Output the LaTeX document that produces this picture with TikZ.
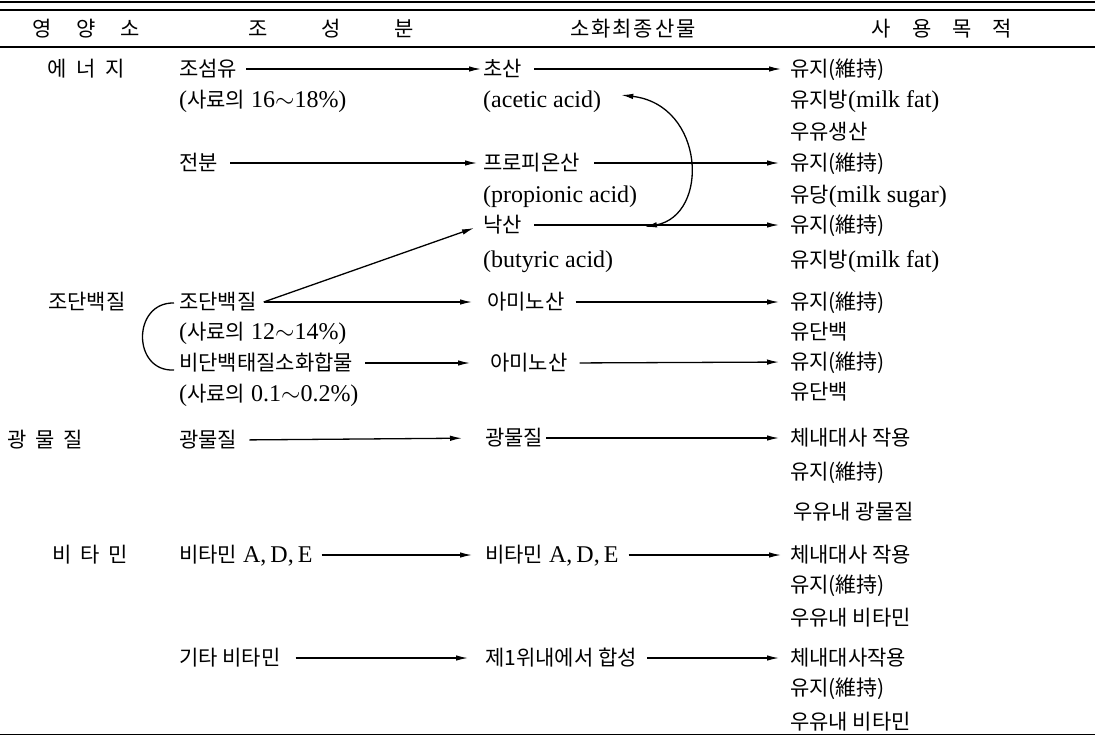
\documentclass[tikz,border=0pt]{standalone}
\usepackage{fontspec}
\setmainfont{Liberation Serif}
\newfontfamily\kr{Noto Sans CJK KR}
\usetikzlibrary{arrows.meta}
\newcommand\K[1]{{\kr\fontsize{21}{24}\selectfont #1}}
\newcommand\gp[1]{\hspace{#1pt}}
\begin{document}
\begin{tikzpicture}[x=1pt,y=-1pt,
  t/.style={anchor=west,inner sep=0pt,text height=18pt,text depth=3pt,font=\fontsize{24}{26}\selectfont},
  hd/.style={anchor=center,inner sep=0pt,text height=18pt,text depth=3pt,font=\fontsize{24}{26}\selectfont},
  arr/.style={-{Latex[length=12pt,width=5.5pt]},line width=1.3pt},
  darr/.style={{Latex[length=12pt,width=5.5pt]}-{Latex[length=12pt,width=5.5pt]},line width=1.3pt},
  rule/.style={line width=1.3pt}]
\useasboundingbox (0,0) rectangle (1095,736);
% rules
\draw[rule] (0,2) -- (1095,2);
\draw[rule] (0,10) -- (1095,10);
\draw[rule] (0,47) -- (1095,47);
\draw[rule] (0,734.5) -- (1095,734.5);
% header
\node[hd] (h1) at (86,29) {\K{영\gp{25}양\gp{25}소}};
\node[hd] (h2) at (331,29) {\K{조\gp{54}성\gp{54}분}};
\node[hd] (h3) at (633,29) {\K{소\gp{2}화\gp{2}최\gp{2}종\gp{2}산\gp{2}물}};
\node[hd] (h4) at (942,29) {\K{사\gp{21}용\gp{21}목\gp{21}적}};
% left labels
\node[t] (L1) at (47,69) {\K{에\gp{10}너\gp{10}지}};
\node[t] (L2) at (48,302) {\K{조단백질}};
\node[t] (L3) at (7,440) {\K{광\gp{9}물\gp{9}질}};
\node[t] (L4) at (52,555) {\K{비\gp{9}타\gp{9}민}};
% composition column
\node[t] (a1) at (179,69) {\K{조섬유}};
\node[t] (a1b) at (179,100) {(\K{사료의} 16$\sim$18\%)};
\node[t] (a2) at (179,163) {\K{전분}};
\node[t] (a3) at (179,302) {\K{조단백질}};
\node[t] (a3b) at (179,332) {(\K{사료의} 12$\sim$14\%)};
\node[t] (a4) at (179,363) {\K{비단백태질소화합물}};
\node[t] (a4b) at (179,394) {(\K{사료의} 0.1$\sim$0.2\%)};
\node[t] (a5) at (179,440) {\K{광물질}};
\node[t] (a6) at (179,555) {\K{비타민} A,\,D,\,E};
\node[t] (a7) at (179,658) {\K{기타 비타민}};
% products column
\node[t] (b1) at (483,69) {\K{초산}};
\node[t] (b1b) at (483,100) {(acetic acid)};
\node[t] (b2) at (483,163) {\K{프로피온산}};
\node[t] (b2b) at (483,195) {(propionic acid)};
\node[t] (b3) at (483,225) {\K{낙산}};
\node[t] (b3b) at (483,260) {(butyric acid)};
\node[t] (b4) at (487,302) {\K{아미노산}};
\node[t] (b5) at (490,363) {\K{아미노산}};
\node[t] (b6) at (485,438) {\K{광물질}};
\node[t] (b7) at (485,555) {\K{비타민} A,\,D,\,E};
\node[t] (b8) at (485,658) {\K{제1위내에서 합성}};
% purpose column
\node[t] (c1) at (790,69) {\K{유지(維持)}};
\node[t] (c2) at (790,100) {\K{유지방}(milk fat)};
\node[t] (c3) at (790,132) {\K{우유생산}};
\node[t] (c4) at (790,163) {\K{유지(維持)}};
\node[t] (c5) at (790,195) {\K{유당}(milk sugar)};
\node[t] (c6) at (790,225) {\K{유지(維持)}};
\node[t] (c7) at (790,260) {\K{유지방}(milk fat)};
\node[t] (c8) at (790,302) {\K{유지(維持)}};
\node[t] (c9) at (790,332) {\K{유단백}};
\node[t] (c10) at (790,362) {\K{유지(維持)}};
\node[t] (c11) at (790,392) {\K{유단백}};
\node[t] (c12) at (790,438) {\K{체내대사 작용}};
\node[t] (c13) at (790,472) {\K{유지(維持)}};
\node[t] (c14) at (793,512) {\K{우유내 광물질}};
\node[t] (c15) at (790,555) {\K{체내대사 작용}};
\node[t] (c16) at (790,585) {\K{유지(維持)}};
\node[t] (c17) at (790,618) {\K{우유내 비타민}};
\node[t] (c18) at (790,658) {\K{체내대사작용}};
\node[t] (c19) at (790,688) {\K{유지(維持)}};
\node[t] (c20) at (790,722) {\K{우유내 비타민}};
% connectors
\draw[arr,shorten <=9pt,shorten >=2pt] (a1.east) -- (b1.west);
\draw[arr,shorten <=12pt,shorten >=9pt] (b1.east) -- (c1.west);
\draw[arr,shorten <=12pt,shorten >=6pt] (a2.east) -- (b2.west);
\draw[arr,shorten <=14pt,shorten >=11pt] (b2.east) -- (c4.west);
\draw[arr,shorten <=12pt,shorten >=11pt] (b3.east) -- (c6.west);
\draw[arr] ([xshift=7pt]a3.east) -- ([xshift=-9pt,yshift=-3pt]b3.west);
\draw[arr,shorten <=7pt,shorten >=15pt] (a3.east) -- (b4.west);
\draw[arr,shorten <=11pt,shorten >=11pt] (b4.east) -- (c8.west);
\draw[arr,shorten <=12pt,shorten >=20pt] (a4.east) -- (b5.west);
\draw[arr,shorten <=12pt,shorten >=11pt] (b5.east) -- (c10.west);
\draw[arr,shorten <=12pt,shorten >=23pt] (a5.east) -- (b6.west);
\draw[arr,shorten <=3pt,shorten >=11pt] (b6.east) -- (c12.west);
\draw[arr,shorten <=9pt,shorten >=13pt] (a6.east) -- (b7.west);
\draw[arr,shorten <=10pt,shorten >=9pt] (b7.east) -- (c15.west);
\draw[arr,shorten <=15pt,shorten >=17pt] (a7.east) -- (b8.west);
\draw[arr,shorten <=10pt,shorten >=11pt] (b8.east) -- (c18.west);
% curved double arrow acetic <-> butyric line
\coordinate (cb) at (645,227);
\draw[darr] ([xshift=20pt,yshift=5pt]b1b.east) .. controls (705,105) and (710,215) .. (cb);
% bracket for crude protein
\draw[line width=1.3pt] ([xshift=-5pt,yshift=-1pt]a3.west) .. controls (132,302) and (132,372) .. ([xshift=-5pt,yshift=-7pt]a4.west);
\end{tikzpicture}
\end{document}
